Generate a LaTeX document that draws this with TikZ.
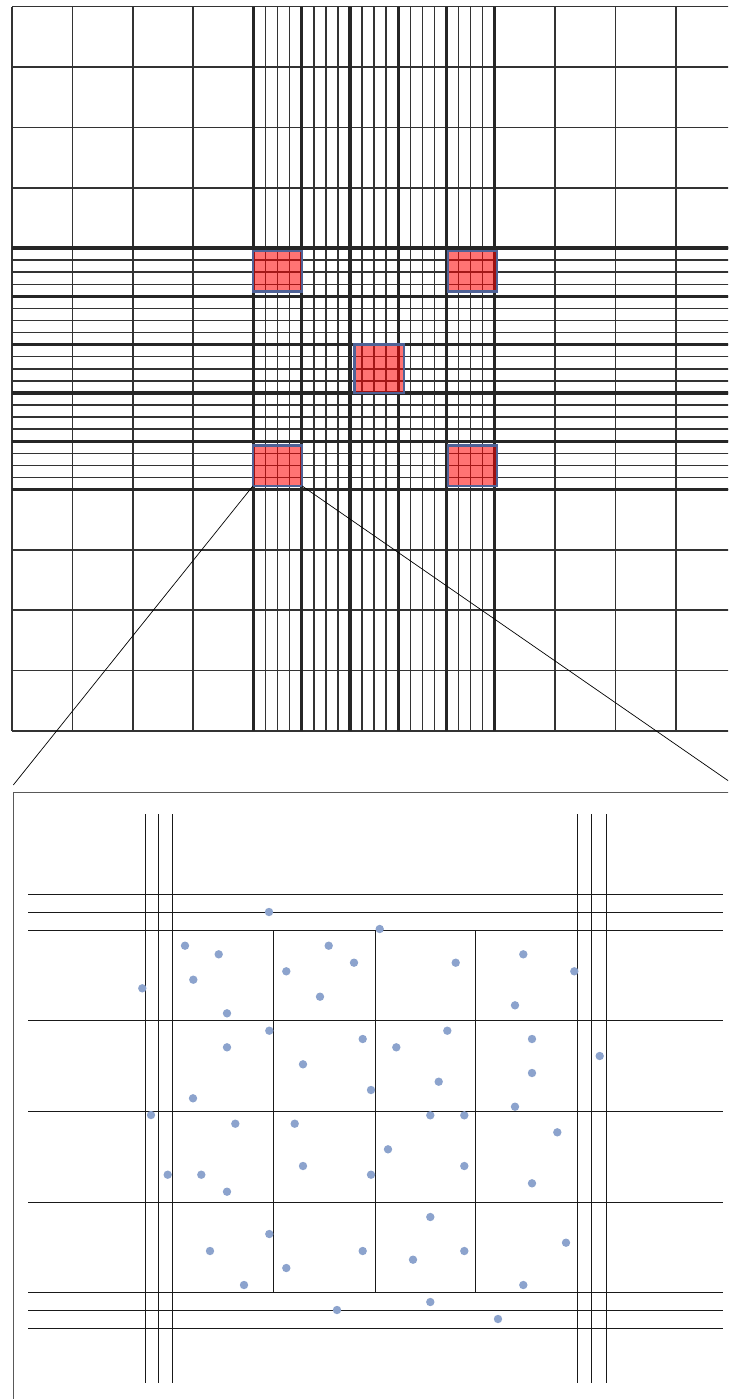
\documentclass[tikz,border=0pt]{standalone}
\usetikzlibrary{positioning}
\definecolor{sqborder}{RGB}{79,98,150}
\definecolor{dotblue}{RGB}{140,163,205}
\begin{document}
\begin{tikzpicture}[
  x=1pt, y=-1pt,
  bigline/.style={draw=black!80, line width=1.6pt},
  fineline/.style={draw=black!80, line width=1.5pt},
  groupline/.style={draw=black!85, line width=3.3pt},
  countsq/.style={draw=sqborder, line width=2.4pt, fill=red, fill opacity=0.55, inner sep=0pt, outer sep=0pt, minimum width=49.2pt, minimum height=40.3pt},
  zoomline/.style={draw=black, line width=0.7pt},
  boxline/.style={draw=black!65, line width=1.3pt},
  cellline/.style={draw=black!90, line width=1pt},
  cell/.style={fill=dotblue}
]
\useasboundingbox (0,0) rectangle (728,1399);
\clip (0,0) rectangle (728,1399);
\foreach \i in {0,1,2,3,4,8,9,10,11,12}{
  \draw[bigline] (12+\i*60.35,6.7) -- (12+\i*60.35,730.9);
  \draw[bigline] (12,6.7+\i*60.35) -- (736.2,6.7+\i*60.35);
}
\foreach \k in {0,...,20}{
  \draw[fineline] (253.4+\k*12.07,6.7) -- (253.4+\k*12.07,730.9);
  \draw[fineline] (12,248.1+\k*12.07) -- (736.2,248.1+\k*12.07);
}
\foreach \k in {0,4,...,20}{
  \draw[groupline] (253.4+\k*12.07,6.7) -- (253.4+\k*12.07,730.9);
  \draw[groupline] (12,248.1+\k*12.07) -- (736.2,248.1+\k*12.07);
}
\node[countsq] (sqa) at (277.5,271.35) {};
\node[countsq] (sqb) at (472.35,271.35) {};
\node[countsq, minimum height=48.3pt] (sqc) at (379.15,368.65) {};
\node[countsq] (sqd) at (277.5,465.8) {};
\node[countsq] (sqe) at (472.35,465.8) {};
\coordinate (zl) at (13.3,785);
\coordinate (zr) at (738,787.5);
\draw[zoomline] (sqd.south west) -- (zl);
\draw[zoomline] (sqd.south east) -- (zr);
\draw[boxline] (13.3,792.7) rectangle (738,1420);
\foreach \x in {145,158.7,172.3,577.3,591.9,606.5}
  \draw[cellline] (\x,814) -- (\x,1383);
\foreach \y in {894.3,912.3,930.3,1020,1111.7,1202.7,1292.3,1310.3,1328.3}
  \draw[cellline] (28.3,\y) -- (723,\y);
\foreach \x in {273.3,375,475.7}
  \draw[cellline] (\x,930.3) -- (\x,1292.3);
\foreach \x/\y in {269/912, 379.7/929, 185/945.7, 218.7/954.3, 328.7/945.7, 354/962.7,
  455.7/962.7, 523.3/954.3, 574.3/971.3, 193.3/979.7, 286.3/971.3, 142.3/988.3,
  320/996.7, 515/1005.3, 227/1013.3, 269.3/1030.7, 362.7/1039, 396.3/1047.3,
  447.3/1030.7, 532/1039, 599.7/1056, 227/1047.3, 303/1064.3, 532/1073,
  371/1090, 438.7/1081.7, 193/1098.3, 515/1106.7, 151/1115, 235.3/1123.7,
  294.7/1123.7, 430.3/1115.3, 464.3/1115.3, 557.3/1132.3, 388/1149.3, 303/1166,
  464.3/1166, 167.7/1174.7, 201.3/1174.7, 371/1174.7, 532/1183.3, 227/1191.7,
  430.3/1217, 269.3/1234, 566/1242.7, 210/1251, 362.7/1251, 464.3/1251,
  413/1259.7, 286.3/1268, 244/1285, 523.3/1285, 430.3/1302, 337/1310, 498/1319}
  \fill[cell] (\x,\y) circle (4.2);
\end{tikzpicture}
\end{document}
